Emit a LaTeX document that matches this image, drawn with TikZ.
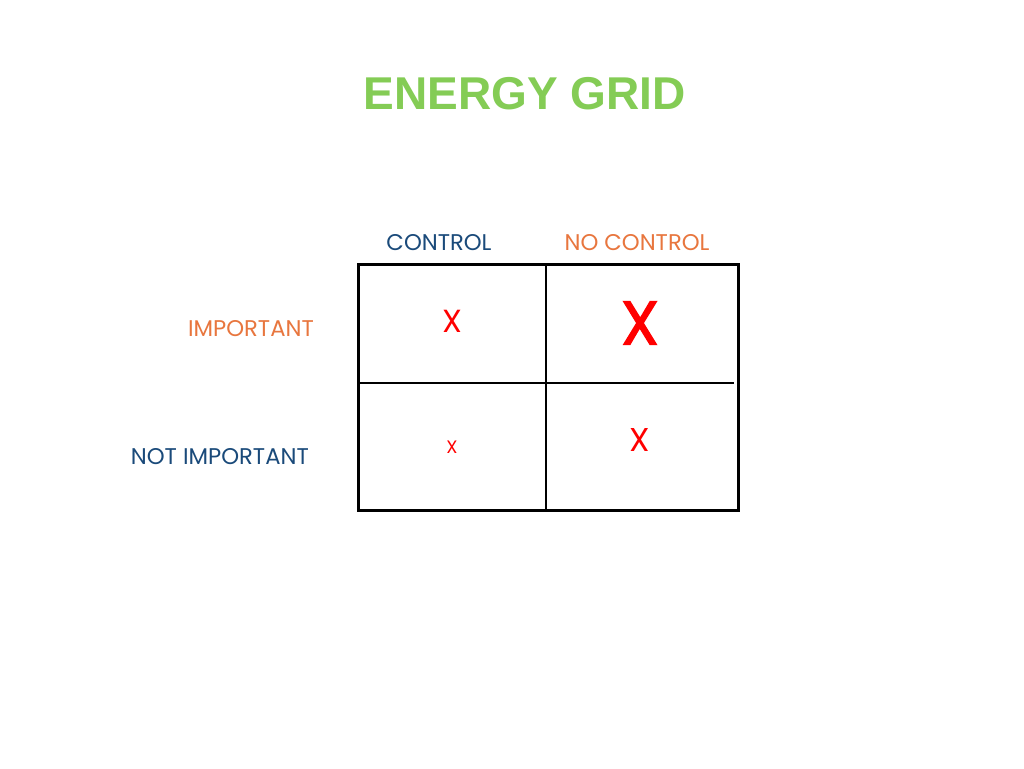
\documentclass[tikz,border=0pt]{standalone}
\usepackage{fontspec}
\setmainfont{Poppins}
\newfontfamily\titlefont{Liberation Sans}
\newfontfamily\heavyx{Poppins}[FakeBold=2]
\definecolor{titlegreen}{HTML}{84CC55}
\definecolor{darkblue}{HTML}{1A4A7A}
\definecolor{orangelab}{HTML}{E8763E}
\definecolor{markred}{HTML}{FF0000}
\begin{document}
\begin{tikzpicture}[x=1pt,y=-1pt,
  collab/.style={font=\fontsize{22.7}{22.7}\selectfont, inner sep=0pt, anchor=center},
  rowlab/.style={font=\fontsize{22.7}{22.7}\selectfont, inner sep=0pt, anchor=east},
  xmark/.style={text=markred, inner sep=0pt, anchor=center},
  gridline/.style={line width=2.5pt, black}]
\useasboundingbox[fill=white] (0,0) rectangle (1024,768);
\node[font=\titlefont\bfseries\fontsize{46}{46}\selectfont, text=titlegreen, inner sep=0pt] (title) at (525,94) {ENERGY GRID};
\node[collab, text=darkblue] (ctrl) at (439,243) {CONTROL};
\node[collab, text=orangelab] (noctrl) at (637,243) {NO CONTROL};
\node[rowlab, text=orangelab] (imp) at (314,329) {IMPORTANT};
\node[rowlab, text=darkblue] (notimp) at (309,457) {NOT IMPORTANT};
\draw[line width=3pt] (358,264) rectangle (738,510);
\draw[gridline] (546,264) -- (546,510);
\draw[gridline] (358,383) -- (734,383);
\node[xmark, font=\fontsize{32}{32}\selectfont] (x1) at (452,321) {X};
\node[xmark, font=\heavyx\fontsize{62}{62}\selectfont] (x2) at (640,323) {X};
\node[xmark, font=\fontsize{18}{18}\selectfont] (x3) at (452,447) {X};
\node[xmark, font=\fontsize{33}{33}\selectfont] (x4) at (640,440) {X};
\end{tikzpicture}
\end{document}
